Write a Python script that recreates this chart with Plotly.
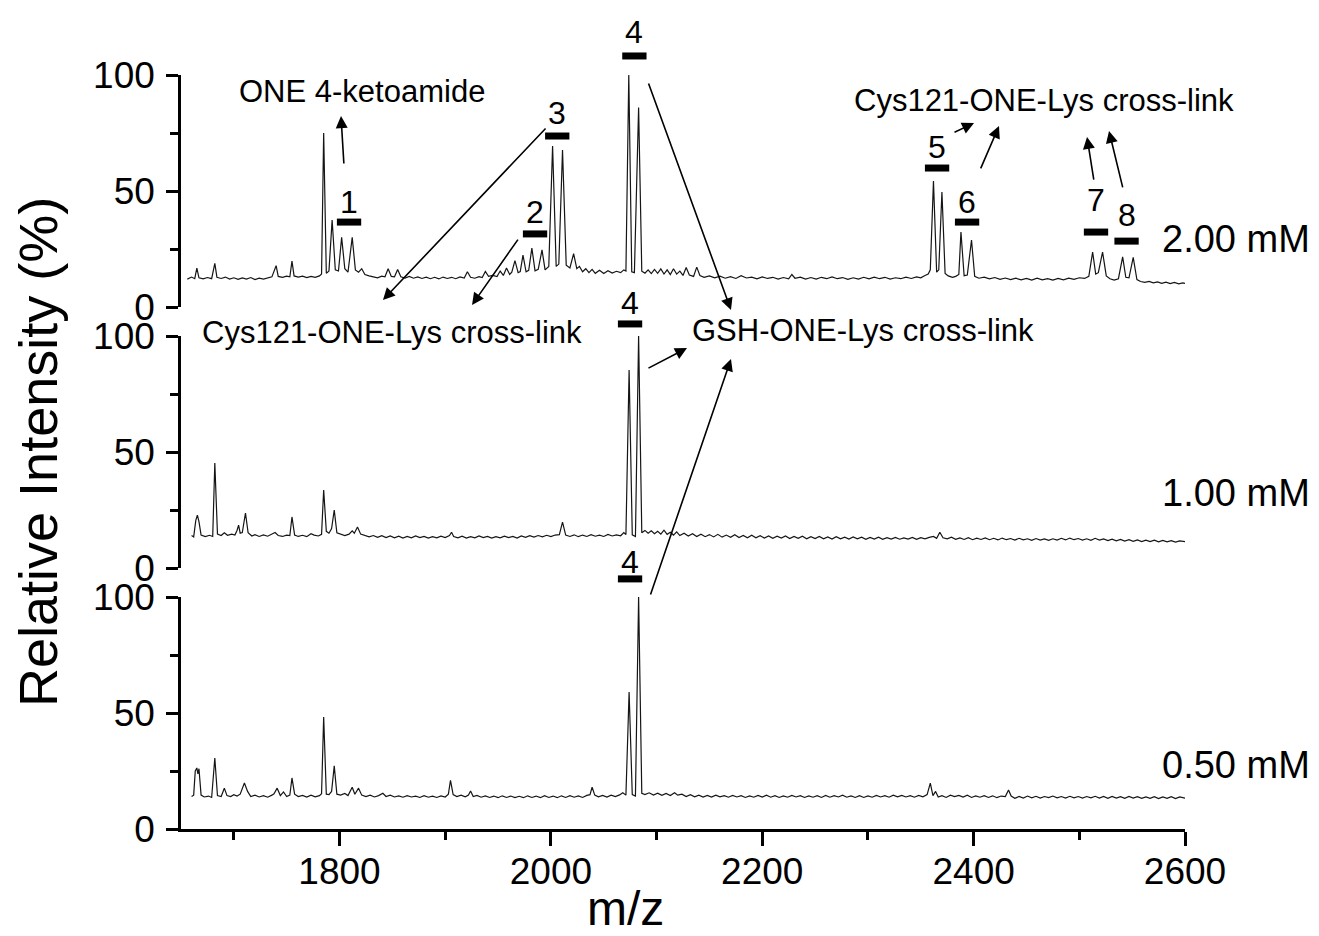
import plotly.graph_objects as go

# ---------------- data ----------------
X_RANGE = [1650, 2600]
X_TICKS = [1800, 2000, 2200, 2400, 2600]
Y_TICKS = [0, 50, 100]
Y_MINOR = [25, 75]

CONC_LABELS = ["2.00 mM", "1.00 mM", "0.50 mM"]          # panels 1, 2, 3 (top -> bottom)
CONC_LABEL_Y = [29.3, 32.3, 27.6]                           # intensity level of each label

# spectrum vertices (m/z, relative intensity)
SPEC_2MM = [
    (1656, 12.0), (1660, 12.9), (1663, 12.2), (1665, 16.8), (1667, 12.6), (1671, 12.1), (1675, 12.7),
    (1679, 12.2), (1682, 18.8), (1684, 12.8), (1688, 12.3), (1692, 12.9), (1696, 12.0), (1700, 12.6),
    (1704, 11.9), (1708, 12.5), (1712, 12.0), (1716, 12.7), (1720, 11.8), (1724, 12.4), (1728, 12.0),
    (1732, 12.6), (1736, 13.0), (1740, 17.8), (1742, 13.2), (1746, 12.8), (1750, 13.3), (1753, 13.0),
    (1755, 19.8), (1757, 13.4), (1761, 12.9), (1765, 13.3), (1769, 12.7), (1773, 13.2), (1777, 12.8),
    (1781, 13.4), (1783, 14.2), (1785, 75.0), (1787.5, 14.5), (1790, 15.5), (1793, 37.5), (1796, 16.0),
    (1799, 15.5), (1802, 30.0), (1805, 16.5), (1808, 15.0), (1812, 30.0), (1815, 16.0), (1818, 15.0),
    (1821, 16.5), (1824, 14.0), (1828, 13.4), (1832, 13.0), (1836, 12.6), (1840, 13.3), (1843, 13.0),
    (1846, 16.5), (1849, 13.2), (1852, 13.0), (1855, 16.2), (1858, 13.0), (1862, 12.5), (1866, 13.2),
    (1870, 12.4), (1874, 13.0), (1878, 12.3), (1882, 12.9), (1886, 12.2), (1890, 12.8), (1894, 12.1),
    (1898, 12.9), (1902, 12.3), (1906, 12.8), (1910, 12.2), (1914, 13.0), (1918, 12.5), (1921, 15.2),
    (1924, 12.8), (1928, 12.4), (1932, 13.1), (1935, 12.7), (1938, 15.3), (1941, 13.2), (1945, 13.6),
    (1949, 13.1), (1952, 15.5), (1955, 13.6), (1958, 16.8), (1961, 14.0), (1963, 15.0), (1966, 20.0),
    (1969, 14.8), (1971, 15.3), (1973.6, 22.4), (1976.5, 15.2), (1979, 15.8), (1982, 25.4), (1985, 15.6),
    (1988, 16.2), (1991.6, 24.6), (1994.5, 16.0), (1998, 17.5), (2001.6, 69.4), (2005, 17.5),
    (2007.5, 18.5), (2011, 67.7), (2014.5, 18.0), (2018, 16.8), (2021.5, 23.0), (2024.5, 16.5),
    (2027, 17.5), (2030, 15.2), (2033, 16.5), (2036, 14.8), (2039, 16.2), (2042, 14.5), (2046, 15.8),
    (2050, 14.4), (2054, 15.6), (2058, 14.6), (2062, 15.4), (2066, 14.8), (2069, 16.0), (2071, 15.5),
    (2073.7, 100.0), (2076.5, 15.2), (2079, 14.8), (2083, 86.0), (2086, 15.4), (2089, 14.6), (2092, 16.0),
    (2095, 14.4), (2098, 16.2), (2101, 14.5), (2104, 16.4), (2107, 14.2), (2110, 16.0), (2113, 14.0),
    (2116, 16.5), (2119, 14.2), (2122, 15.5), (2125, 13.6), (2128, 17.0), (2131, 13.8), (2135, 13.2),
    (2138, 17.2), (2141, 13.6), (2145, 12.8), (2150, 13.4), (2155, 12.6), (2160, 13.3), (2165, 12.4),
    (2170, 13.1), (2175, 12.3), (2180, 13.5), (2185, 12.5), (2190, 12.9), (2195, 12.1), (2200, 13.0),
    (2205, 12.3), (2210, 12.8), (2215, 12.0), (2220, 12.7), (2225, 12.1), (2228, 14.0), (2231, 12.4),
    (2236, 12.9), (2241, 12.0), (2246, 12.7), (2251, 12.0), (2256, 12.8), (2261, 12.2), (2266, 13.0),
    (2271, 12.2), (2276, 12.7), (2281, 11.9), (2286, 12.6), (2291, 12.0), (2296, 12.8), (2301, 12.1),
    (2306, 12.9), (2311, 12.2), (2316, 12.8), (2321, 12.0), (2326, 12.6), (2331, 12.2), (2336, 12.9),
    (2341, 12.3), (2346, 13.0), (2350, 12.6), (2354, 13.6), (2357, 14.2), (2359, 16.0), (2362, 54.3),
    (2365, 15.0), (2367, 16.0), (2370, 49.6), (2373, 14.5), (2376, 13.4), (2380, 12.8), (2383, 13.2),
    (2386, 14.0), (2388, 32.3), (2391, 13.5), (2394, 13.8), (2398, 28.9), (2401, 13.2), (2405, 12.4),
    (2410, 12.9), (2415, 12.1), (2420, 12.7), (2425, 11.9), (2430, 12.5), (2435, 11.8), (2440, 12.4),
    (2445, 11.7), (2450, 12.3), (2455, 11.6), (2460, 12.4), (2465, 11.7), (2470, 12.2), (2475, 11.6),
    (2480, 12.3), (2485, 11.7), (2490, 12.4), (2495, 11.9), (2500, 12.6), (2505, 12.3), (2509, 13.2),
    (2512.6, 23.7), (2515.5, 14.2), (2518, 14.8), (2522, 23.7), (2525.5, 13.4), (2529, 12.2),
    (2533, 11.6), (2537, 12.2), (2541, 21.6), (2544, 12.8), (2547, 12.6), (2551, 21.4), (2554.5, 11.8),
    (2558, 11.0), (2562, 10.6), (2566, 11.0), (2570, 10.4), (2574, 10.8), (2578, 10.2), (2582, 10.7),
    (2586, 10.1), (2590, 10.6), (2594, 10.0), (2598, 10.4), (2600, 10.2),
]

SPEC_1MM = [
    (1660, 14.0), (1662, 13.4), (1664, 20.5), (1665.5, 22.8), (1667, 20.0), (1669, 14.2), (1673, 13.5),
    (1677, 14.1), (1680, 13.6), (1682, 45.3), (1684.5, 14.6), (1688, 14.0), (1691, 15.2), (1694, 14.1),
    (1698, 14.6), (1701, 14.2), (1703, 16.2), (1704.5, 18.5), (1706, 15.0), (1708, 15.3), (1711, 23.7),
    (1713.5, 15.2), (1717, 13.8), (1720, 14.4), (1724, 13.6), (1728, 14.3), (1732, 13.7), (1736, 14.6),
    (1739, 15.3), (1742, 14.0), (1746, 13.6), (1750, 14.2), (1753, 14.0), (1755, 22.0), (1757.5, 14.2),
    (1761, 13.6), (1765, 14.1), (1769, 13.5), (1773, 14.8), (1776, 14.2), (1780, 13.8), (1783, 14.5),
    (1785, 33.6), (1787.5, 15.8), (1790, 15.0), (1792.5, 17.0), (1795, 25.0), (1797.5, 15.2), (1801, 14.6),
    (1805, 14.0), (1809, 14.6), (1812, 16.0), (1814, 15.0), (1817, 17.7), (1820, 14.6), (1824, 14.0),
    (1828, 13.4), (1832, 14.0), (1836, 13.2), (1840, 13.9), (1844, 13.1), (1848, 13.8), (1852, 13.0),
    (1856, 13.7), (1860, 12.9), (1864, 13.6), (1868, 13.0), (1872, 13.8), (1876, 13.1), (1880, 13.6),
    (1884, 12.9), (1888, 13.5), (1892, 13.0), (1896, 13.7), (1900, 13.1), (1904, 14.0), (1906, 15.4),
    (1908, 13.6), (1912, 13.0), (1916, 13.7), (1920, 12.9), (1924, 13.5), (1928, 13.0), (1932, 13.8),
    (1936, 13.1), (1940, 13.6), (1944, 12.9), (1948, 13.5), (1952, 13.0), (1956, 13.7), (1960, 13.1),
    (1964, 13.6), (1968, 12.9), (1972, 13.8), (1976, 13.2), (1980, 13.9), (1984, 13.3), (1988, 14.0),
    (1992, 13.4), (1996, 14.1), (2000, 13.5), (2004, 14.2), (2008, 14.4), (2011, 19.8), (2014, 14.2),
    (2018, 13.6), (2022, 14.3), (2026, 13.5), (2030, 14.2), (2034, 13.6), (2038, 14.4), (2042, 13.7),
    (2046, 14.2), (2050, 13.6), (2054, 14.5), (2058, 13.8), (2062, 14.3), (2066, 13.9), (2069, 15.3),
    (2071, 14.4), (2074, 85.3), (2077, 14.3), (2080, 13.6), (2083, 100.0), (2086, 15.2), (2089, 16.2),
    (2092, 15.0), (2095, 16.0), (2098, 14.8), (2101, 15.8), (2104, 14.6), (2107, 16.3), (2110, 14.5),
    (2113, 15.4), (2116, 14.2), (2119, 15.6), (2122, 14.0), (2126, 15.0), (2130, 13.8), (2134, 14.8),
    (2138, 13.6), (2142, 14.6), (2146, 13.5), (2150, 14.4), (2154, 13.4), (2158, 14.5), (2162, 13.3),
    (2166, 14.2), (2170, 13.2), (2174, 14.3), (2178, 13.1), (2182, 14.0), (2186, 13.0), (2190, 14.1),
    (2194, 13.0), (2198, 13.9), (2202, 12.9), (2206, 13.8), (2210, 12.8), (2214, 13.7), (2218, 12.9),
    (2222, 13.8), (2226, 12.7), (2230, 13.6), (2234, 12.8), (2238, 13.7), (2242, 12.6), (2246, 13.5),
    (2250, 12.7), (2254, 13.6), (2258, 12.6), (2262, 13.4), (2266, 12.5), (2270, 13.5), (2274, 12.6),
    (2278, 13.3), (2282, 12.5), (2286, 13.4), (2290, 12.6), (2294, 13.3), (2298, 12.4), (2302, 13.2),
    (2306, 12.5), (2310, 13.3), (2314, 12.4), (2318, 13.1), (2322, 12.5), (2326, 13.2), (2330, 12.4),
    (2334, 13.0), (2338, 12.5), (2342, 13.2), (2346, 12.4), (2350, 13.1), (2354, 12.6), (2358, 13.2),
    (2362, 13.6), (2365, 12.8), (2368, 15.4), (2371, 13.0), (2375, 12.6), (2379, 13.3), (2383, 12.4),
    (2387, 13.0), (2391, 12.3), (2395, 13.1), (2399, 12.2), (2403, 12.9), (2407, 12.3), (2411, 13.0),
    (2415, 12.2), (2419, 12.8), (2423, 12.1), (2427, 12.9), (2431, 12.2), (2435, 12.7), (2439, 12.0),
    (2443, 12.8), (2447, 12.1), (2451, 12.6), (2455, 11.9), (2459, 12.7), (2463, 12.0), (2467, 12.5),
    (2471, 11.9), (2475, 12.6), (2479, 12.0), (2483, 12.8), (2487, 12.1), (2491, 12.9), (2495, 12.2),
    (2499, 12.7), (2503, 12.0), (2507, 12.6), (2511, 11.9), (2515, 12.8), (2519, 12.0), (2523, 12.5),
    (2527, 11.8), (2531, 12.4), (2535, 11.7), (2539, 12.3), (2543, 11.6), (2547, 12.2), (2551, 11.5),
    (2555, 12.1), (2559, 11.4), (2563, 12.0), (2567, 11.4), (2571, 12.0), (2575, 11.3), (2579, 11.9),
    (2583, 11.3), (2587, 11.8), (2591, 11.2), (2595, 11.7), (2600, 11.4),
]

SPEC_05MM = [
    (1660, 14.0), (1662, 14.6), (1663.5, 25.0), (1665, 26.3), (1666, 23.8), (1667, 26.0), (1669, 14.6),
    (1672, 13.8), (1676, 14.2), (1679, 13.6), (1682, 30.6), (1684.5, 14.4), (1688, 14.0), (1691, 17.6),
    (1693.5, 14.4), (1697, 14.0), (1700, 14.8), (1703, 14.2), (1706, 15.0), (1710, 19.8), (1713, 16.2),
    (1716, 14.0), (1720, 14.6), (1724, 13.8), (1728, 14.4), (1732, 13.7), (1736, 14.6), (1738, 15.2),
    (1741, 17.6), (1744, 14.4), (1747, 16.0), (1750, 14.0), (1753, 14.6), (1755, 22.0), (1757.5, 15.0),
    (1761, 14.0), (1765, 14.5), (1769, 13.8), (1773, 14.6), (1777, 13.9), (1781, 14.4), (1783, 15.2),
    (1785, 48.3), (1787.5, 15.0), (1790, 14.8), (1792.5, 16.2), (1795, 27.2), (1797.5, 15.0), (1801, 14.6),
    (1805, 15.3), (1808, 14.4), (1812, 18.0), (1814.5, 15.0), (1818, 17.6), (1821, 14.6), (1825, 14.0),
    (1829, 14.6), (1833, 13.8), (1837, 14.4), (1841, 15.4), (1844, 14.0), (1848, 14.6), (1852, 13.8),
    (1856, 14.3), (1860, 13.7), (1864, 14.4), (1868, 13.8), (1872, 14.2), (1876, 13.6), (1880, 14.4),
    (1884, 13.7), (1888, 14.2), (1892, 13.6), (1896, 14.3), (1900, 13.8), (1903, 15.0), (1905, 21.0),
    (1907.5, 14.8), (1911, 14.0), (1915, 14.6), (1919, 13.9), (1922, 14.6), (1924, 16.4), (1926.5, 14.0),
    (1930, 14.5), (1934, 13.7), (1938, 14.3), (1942, 13.6), (1946, 14.2), (1950, 13.5), (1954, 14.3),
    (1958, 13.6), (1962, 14.2), (1966, 13.5), (1970, 14.1), (1974, 13.5), (1978, 14.3), (1982, 13.6),
    (1986, 14.2), (1990, 13.5), (1994, 14.4), (1998, 13.6), (2002, 14.2), (2006, 13.5), (2010, 14.3),
    (2014, 13.6), (2018, 14.4), (2022, 13.7), (2026, 14.3), (2030, 13.6), (2034, 14.5), (2037, 14.8),
    (2039, 18.0), (2041.5, 14.6), (2045, 13.9), (2049, 14.5), (2053, 13.8), (2057, 14.6), (2061, 14.0),
    (2065, 14.7), (2068, 15.6), (2071, 14.6), (2074, 59.0), (2077, 14.8), (2080, 14.2), (2083, 100.0),
    (2086, 15.4), (2089, 14.8), (2093, 15.6), (2097, 14.6), (2101, 15.4), (2105, 14.5), (2109, 15.3),
    (2113, 14.4), (2117, 15.6), (2120, 14.6), (2124, 15.0), (2128, 14.0), (2132, 14.8), (2136, 13.9),
    (2140, 14.6), (2144, 13.8), (2148, 14.5), (2152, 13.8), (2156, 14.6), (2160, 13.9), (2164, 14.4),
    (2168, 13.7), (2172, 14.5), (2176, 13.8), (2180, 14.4), (2184, 13.6), (2188, 14.3), (2192, 13.7),
    (2196, 14.5), (2200, 13.8), (2204, 14.6), (2208, 13.7), (2212, 14.4), (2216, 13.6), (2220, 14.3),
    (2224, 13.7), (2228, 14.5), (2232, 13.8), (2236, 14.4), (2240, 13.6), (2244, 14.3), (2248, 13.7),
    (2252, 14.4), (2256, 13.6), (2260, 14.5), (2264, 13.7), (2268, 14.4), (2272, 13.8), (2276, 14.6),
    (2280, 13.7), (2284, 14.3), (2288, 13.6), (2292, 14.4), (2296, 13.6), (2300, 14.3), (2304, 13.7),
    (2308, 14.5), (2312, 13.8), (2316, 14.4), (2320, 13.7), (2324, 14.6), (2328, 13.9), (2332, 14.5),
    (2336, 13.8), (2340, 14.4), (2344, 13.7), (2348, 14.5), (2352, 13.9), (2356, 14.8), (2359, 19.8),
    (2361.5, 14.4), (2364, 16.2), (2366.5, 13.8), (2370, 14.4), (2374, 13.6), (2378, 14.6), (2382, 14.0),
    (2386, 14.5), (2390, 13.8), (2394, 14.6), (2398, 13.6), (2402, 14.3), (2406, 13.7), (2410, 14.4),
    (2414, 13.6), (2418, 14.3), (2422, 13.5), (2426, 14.2), (2430, 14.0), (2433, 16.8), (2435.5, 14.2),
    (2439, 13.2), (2443, 14.0), (2447, 13.3), (2451, 14.2), (2455, 13.4), (2459, 14.1), (2463, 13.3),
    (2467, 14.0), (2471, 13.5), (2475, 14.2), (2479, 13.4), (2483, 14.0), (2487, 13.3), (2491, 14.1),
    (2495, 13.4), (2499, 14.0), (2503, 13.3), (2507, 14.0), (2511, 13.4), (2515, 14.1), (2519, 13.3),
    (2523, 14.0), (2527, 13.2), (2531, 14.0), (2535, 13.3), (2539, 13.9), (2543, 13.2), (2547, 14.0),
    (2551, 13.3), (2555, 13.9), (2559, 13.2), (2563, 13.8), (2567, 13.2), (2571, 13.9), (2575, 13.1),
    (2579, 13.8), (2583, 13.2), (2587, 13.9), (2591, 13.1), (2595, 13.8), (2600, 13.3),
]

# peak group numbers: (label, panel, m/z, level of bar, level of number)
PEAK_LABELS = [
    ("1", 1, 1809.0, 36.6, 45.3),
    ("2", 1, 1985.0, 31.5, 40.9),
    ("3", 1, 2006.0, 73.7, 83.6),
    ("4", 1, 2079.0, 108.2, 118.5),
    ("5", 1, 2365.4, 59.9, 69.0),
    ("6", 1, 2393.8, 36.6, 45.3),
    ("7", 1, 2515.8, 32.3, 46.1),
    ("8", 1, 2544.7, 28.4, 39.7),
    ("4", 2, 2074.9, 105.2, 114.2),
    ("4", 3, 2074.9, 107.8, 115.1),
]

# text notes: (text, panel, m/z, level)
NOTES = [
    ("ONE 4-ketoamide", 1, 1821.3, 92.7),
    ("Cys121-ONE-Lys cross-link", 1, 2466.6, 88.8),
    ("Cys121-ONE-Lys cross-link", 1, 1849.7, -11.2),
    ("GSH-ONE-Lys cross-link", 1, 2295.3, -10.3),
]

# arrows: (tail panel, tail m/z, tail level, head panel, head m/z, head level)
ARROWS = [
    (1, 1804.2, 61.2, 1, 1801.4, 82.3),
    (1, 1996.3, 77.6, 1, 1841.1, 3.0),
    (1, 1969.8, 29.7, 1, 1925.4, 0.9),
    (1, 2091.9, 97.0, 1, 2170.4, -1.3),
    (1, 2380.5, 75.0, 1, 2400.4, 79.3),
    (1, 2406.1, 59.1, 1, 2424.0, 78.0),
    (1, 2513.9, 54.3, 1, 2507.3, 73.3),
    (1, 2541.4, 50.9, 1, 2528.1, 75.9),
    (2, 2090.9, 85.8, 2, 2128.8, 94.8),
    (3, 2093.8, 100.4, 2, 2170.4, 90.1),
]

# ---------------- layout / style ----------------
W, H = 1319, 936
FONT = "Liberation Sans, Arial, Helvetica, sans-serif"
X_PX = (181, 1185)
PANEL_PX = {1: (75, 307), 2: (336, 568), 3: (597, 829)}
AXIS_W = 2.5
BAR_HALF = 11.5  # half length of a group bar, in m/z units


def x_pix(mz):
    return X_PX[0] + (mz - X_RANGE[0]) / (X_RANGE[1] - X_RANGE[0]) * (X_PX[1] - X_PX[0])


def y_pix(panel, v):
    top, bot = PANEL_PX[panel]
    return bot - v / 100.0 * (bot - top)


def xp(mz):
    return x_pix(mz) / W


def yp(panel, v):
    return 1 - y_pix(panel, v) / H


fig = go.Figure()

panel_axes = {1: ("x3", "y3"), 2: ("x2", "y2"), 3: ("x", "y")}
for spec, panel in ((SPEC_2MM, 1), (SPEC_1MM, 2), (SPEC_05MM, 3)):
    xa, ya = panel_axes[panel]
    fig.add_trace(go.Scatter(
        x=[p[0] for p in spec], y=[p[1] for p in spec], mode="lines",
        line=dict(color="#151515", width=1.2), xaxis=xa, yaxis=ya,
        showlegend=False, hoverinfo="skip"))

xdom = [X_PX[0] / W, X_PX[1] / W]


def ydom(panel):
    top, bot = PANEL_PX[panel]
    return [1 - bot / H, 1 - top / H]


yaxis_common = dict(
    range=[0, 100], tickvals=Y_TICKS, ticks="outside", ticklen=12, tickwidth=AXIS_W,
    tickcolor="black", showline=True, linecolor="black", linewidth=AXIS_W,
    showgrid=False, zeroline=False, fixedrange=True, automargin=False,
    ticklabelstandoff=4,
    tickfont=dict(family=FONT, size=37, color="black"),
    minor=dict(tickvals=Y_MINOR, ticks="outside", ticklen=8, tickwidth=AXIS_W, tickcolor="black"),
)

fig.update_layout(
    template="none",
    width=W, height=H, margin=dict(l=0, r=0, t=0, b=0, pad=0, autoexpand=False),
    paper_bgcolor="white", plot_bgcolor="white",
    font=dict(family=FONT, color="black"),
    xaxis=dict(domain=xdom, anchor="y", range=X_RANGE, tickvals=X_TICKS, automargin=False,
               ticks="outside", ticklen=14, tickwidth=AXIS_W, tickcolor="black",
               showline=True, linecolor="black", linewidth=AXIS_W, showgrid=False,
               zeroline=False, tickfont=dict(family=FONT, size=37, color="black"),
               ticklabelstandoff=-6,
               minor=dict(dtick=100, tick0=1700, ticks="outside", ticklen=8,
                          tickwidth=AXIS_W, tickcolor="black", showgrid=False)),
    xaxis2=dict(domain=xdom, anchor="y2", matches="x", visible=False, automargin=False),
    xaxis3=dict(domain=xdom, anchor="y3", matches="x", visible=False, automargin=False),
    yaxis=dict(domain=ydom(3), anchor="x", **yaxis_common),
    yaxis2=dict(domain=ydom(2), anchor="x2", **yaxis_common),
    yaxis3=dict(domain=ydom(1), anchor="x3", **yaxis_common),
)

shapes = []
annotations = []

# group bars and numbers
for lab, panel, mz, bar_v, num_v in PEAK_LABELS:
    shapes.append(dict(type="line", xref="paper", yref="paper",
                       x0=xp(mz - BAR_HALF), x1=xp(mz + BAR_HALF),
                       y0=yp(panel, bar_v), y1=yp(panel, bar_v),
                       line=dict(color="black", width=7)))
    annotations.append(dict(text=lab, xref="paper", yref="paper", x=xp(mz), y=yp(panel, num_v),
                            xanchor="center", yanchor="middle", showarrow=False,
                            font=dict(family=FONT, size=32, color="black")))

# notes
for txt, panel, mz, v in NOTES:
    annotations.append(dict(text=txt, xref="paper", yref="paper", x=xp(mz), y=yp(panel, v),
                            xanchor="center", yanchor="middle", showarrow=False,
                            font=dict(family=FONT, size=31, color="black")))

# arrows
for tp, tmz, tv, hp, hmz, hv in ARROWS:
    annotations.append(dict(text="", xref="paper", yref="paper", x=xp(hmz), y=yp(hp, hv),
                            ax=x_pix(tmz) - x_pix(hmz), ay=y_pix(tp, tv) - y_pix(hp, hv),
                            axref="pixel", ayref="pixel", showarrow=True,
                            arrowhead=2, arrowsize=1.5, arrowwidth=1.6, arrowcolor="black",
                            standoff=0, startstandoff=0))

# concentration labels (right of the plot)
for i, (lab, v) in enumerate(zip(CONC_LABELS, CONC_LABEL_Y)):
    annotations.append(dict(text=lab, xref="paper", yref="paper", x=1160 / W, y=yp(i + 1, v),
                            xanchor="left", yanchor="middle", showarrow=False,
                            font=dict(family=FONT, size=38, color="black")))

# axis titles
annotations.append(dict(text="m/z", xref="paper", yref="paper", x=625 / W, y=1 - 908 / H,
                        xanchor="center", yanchor="middle", showarrow=False,
                        font=dict(family=FONT, size=48, color="black")))
annotations.append(dict(text="Relative Intensity (%)", xref="paper", yref="paper",
                        x=38 / W, y=1 - 452 / H, textangle=-90,
                        xanchor="center", yanchor="middle", showarrow=False,
                        font=dict(family=FONT, size=54, color="black")))

fig.update_layout(shapes=shapes, annotations=annotations)

fig.write_html("out.html")
